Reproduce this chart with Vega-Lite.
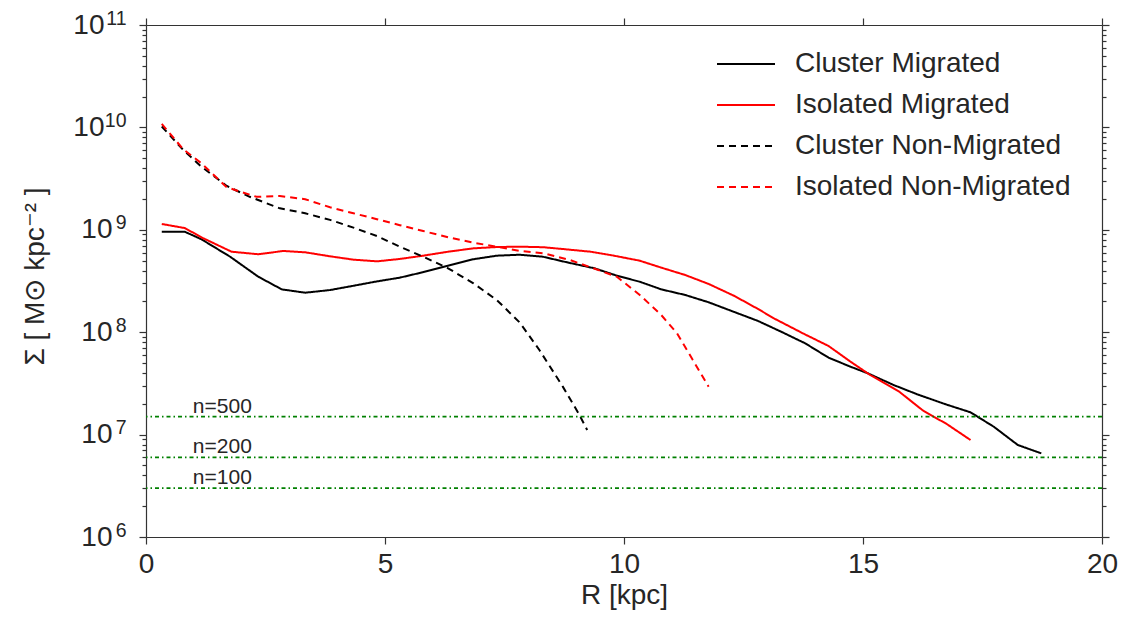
{
  "$schema": "https://vega.github.io/schema/vega-lite/v6.json",
  "width": 956,
  "height": 512,
  "autosize": {"type": "none"},
  "padding": {"left": 146, "top": 25, "right": 38, "bottom": 84},
  "background": "white",
  "config": {
    "view": {"stroke": null},
    "font": "Liberation Sans",
    "axis": {
      "grid": false,
      "domainColor": "#333333",
      "domainWidth": 1.2,
      "tickColor": "#333333",
      "tickWidth": 1.2,
      "labelColor": "#262626",
      "titleColor": "#262626",
      "labelFont": "Liberation Sans",
      "titleFont": "Liberation Sans",
      "labelFontSize": 28,
      "titleFontSize": 28,
      "titleFontWeight": "normal"
    }
  },
  "datasets": {
    "profiles": [
      {"R": 0.33, "S": 9.58e8, "series": "Cluster Migrated"},
      {"R": 0.81, "S": 9.58e8, "series": "Cluster Migrated"},
      {"R": 1.16, "S": 8.08e8, "series": "Cluster Migrated"},
      {"R": 1.76, "S": 5.46e8, "series": "Cluster Migrated"},
      {"R": 2.35, "S": 3.48e8, "series": "Cluster Migrated"},
      {"R": 2.84, "S": 2.62e8, "series": "Cluster Migrated"},
      {"R": 3.33, "S": 2.43e8, "series": "Cluster Migrated"},
      {"R": 3.85, "S": 2.58e8, "series": "Cluster Migrated"},
      {"R": 4.34, "S": 2.84e8, "series": "Cluster Migrated"},
      {"R": 4.79, "S": 3.11e8, "series": "Cluster Migrated"},
      {"R": 5.31, "S": 3.41e8, "series": "Cluster Migrated"},
      {"R": 5.79, "S": 3.85e8, "series": "Cluster Migrated"},
      {"R": 6.32, "S": 4.46e8, "series": "Cluster Migrated"},
      {"R": 6.84, "S": 5.15e8, "series": "Cluster Migrated"},
      {"R": 7.34, "S": 5.59e8, "series": "Cluster Migrated"},
      {"R": 7.82, "S": 5.71e8, "series": "Cluster Migrated"},
      {"R": 8.30, "S": 5.46e8, "series": "Cluster Migrated"},
      {"R": 8.81, "S": 4.81e8, "series": "Cluster Migrated"},
      {"R": 9.38, "S": 4.21e8, "series": "Cluster Migrated"},
      {"R": 9.87, "S": 3.54e8, "series": "Cluster Migrated"},
      {"R": 10.33, "S": 3.11e8, "series": "Cluster Migrated"},
      {"R": 10.78, "S": 2.62e8, "series": "Cluster Migrated"},
      {"R": 11.28, "S": 2.31e8, "series": "Cluster Migrated"},
      {"R": 11.77, "S": 1.96e8, "series": "Cluster Migrated"},
      {"R": 12.30, "S": 1.58e8, "series": "Cluster Migrated"},
      {"R": 12.80, "S": 1.29e8, "series": "Cluster Migrated"},
      {"R": 13.29, "S": 1.01e8, "series": "Cluster Migrated"},
      {"R": 13.79, "S": 7.79e7, "series": "Cluster Migrated"},
      {"R": 14.28, "S": 5.64e7, "series": "Cluster Migrated"},
      {"R": 14.74, "S": 4.60e7, "series": "Cluster Migrated"},
      {"R": 15.10, "S": 3.97e7, "series": "Cluster Migrated"},
      {"R": 15.64, "S": 3.05e7, "series": "Cluster Migrated"},
      {"R": 16.13, "S": 2.48e7, "series": "Cluster Migrated"},
      {"R": 16.71, "S": 1.99e7, "series": "Cluster Migrated"},
      {"R": 17.25, "S": 1.65e7, "series": "Cluster Migrated"},
      {"R": 17.74, "S": 1.19e7, "series": "Cluster Migrated"},
      {"R": 18.24, "S": 7.91e6, "series": "Cluster Migrated"},
      {"R": 18.73, "S": 6.56e6, "series": "Cluster Migrated"},

      {"R": 0.33, "S": 1.14e9, "series": "Isolated Migrated"},
      {"R": 0.81, "S": 1.04e9, "series": "Isolated Migrated"},
      {"R": 1.20, "S": 8.26e8, "series": "Isolated Migrated"},
      {"R": 1.79, "S": 6.11e8, "series": "Isolated Migrated"},
      {"R": 2.35, "S": 5.77e8, "series": "Isolated Migrated"},
      {"R": 2.87, "S": 6.21e8, "series": "Isolated Migrated"},
      {"R": 3.33, "S": 6.03e8, "series": "Isolated Migrated"},
      {"R": 3.85, "S": 5.51e8, "series": "Isolated Migrated"},
      {"R": 4.34, "S": 5.11e8, "series": "Isolated Migrated"},
      {"R": 4.83, "S": 4.92e8, "series": "Isolated Migrated"},
      {"R": 5.31, "S": 5.19e8, "series": "Isolated Migrated"},
      {"R": 5.80, "S": 5.59e8, "series": "Isolated Migrated"},
      {"R": 6.32, "S": 6.11e8, "series": "Isolated Migrated"},
      {"R": 6.85, "S": 6.59e8, "series": "Isolated Migrated"},
      {"R": 7.34, "S": 6.79e8, "series": "Isolated Migrated"},
      {"R": 7.82, "S": 6.84e8, "series": "Isolated Migrated"},
      {"R": 8.31, "S": 6.76e8, "series": "Isolated Migrated"},
      {"R": 8.72, "S": 6.49e8, "series": "Isolated Migrated"},
      {"R": 9.30, "S": 6.11e8, "series": "Isolated Migrated"},
      {"R": 9.79, "S": 5.59e8, "series": "Isolated Migrated"},
      {"R": 10.33, "S": 4.99e8, "series": "Isolated Migrated"},
      {"R": 10.78, "S": 4.27e8, "series": "Isolated Migrated"},
      {"R": 11.28, "S": 3.62e8, "series": "Isolated Migrated"},
      {"R": 11.77, "S": 2.96e8, "series": "Isolated Migrated"},
      {"R": 12.30, "S": 2.27e8, "series": "Isolated Migrated"},
      {"R": 12.80, "S": 1.69e8, "series": "Isolated Migrated"},
      {"R": 13.13, "S": 1.37e8, "series": "Isolated Migrated"},
      {"R": 13.74, "S": 9.76e7, "series": "Isolated Migrated"},
      {"R": 14.28, "S": 7.33e7, "series": "Isolated Migrated"},
      {"R": 14.74, "S": 5.15e7, "series": "Isolated Migrated"},
      {"R": 15.15, "S": 3.82e7, "series": "Isolated Migrated"},
      {"R": 15.76, "S": 2.62e7, "series": "Isolated Migrated"},
      {"R": 16.26, "S": 1.71e7, "series": "Isolated Migrated"},
      {"R": 16.75, "S": 1.27e7, "series": "Isolated Migrated"},
      {"R": 17.25, "S": 8.85e6, "series": "Isolated Migrated"},

      {"R": 0.33, "S": 1.02e10, "series": "Cluster Non-Migrated"},
      {"R": 0.78, "S": 6.02e9, "series": "Cluster Non-Migrated"},
      {"R": 1.16, "S": 4.13e9, "series": "Cluster Non-Migrated"},
      {"R": 1.69, "S": 2.68e9, "series": "Cluster Non-Migrated"},
      {"R": 2.17, "S": 2.10e9, "series": "Cluster Non-Migrated"},
      {"R": 2.80, "S": 1.62e9, "series": "Cluster Non-Migrated"},
      {"R": 3.33, "S": 1.45e9, "series": "Cluster Non-Migrated"},
      {"R": 3.85, "S": 1.25e9, "series": "Cluster Non-Migrated"},
      {"R": 4.34, "S": 1.05e9, "series": "Cluster Non-Migrated"},
      {"R": 4.83, "S": 8.70e8, "series": "Cluster Non-Migrated"},
      {"R": 5.31, "S": 6.84e8, "series": "Cluster Non-Migrated"},
      {"R": 5.80, "S": 5.46e8, "series": "Cluster Non-Migrated"},
      {"R": 6.32, "S": 4.21e8, "series": "Cluster Non-Migrated"},
      {"R": 6.85, "S": 3.00e8, "series": "Cluster Non-Migrated"},
      {"R": 7.34, "S": 2.06e8, "series": "Cluster Non-Migrated"},
      {"R": 7.82, "S": 1.24e8, "series": "Cluster Non-Migrated"},
      {"R": 8.23, "S": 6.70e7, "series": "Cluster Non-Migrated"},
      {"R": 8.72, "S": 2.94e7, "series": "Cluster Non-Migrated"},
      {"R": 9.05, "S": 1.61e7, "series": "Cluster Non-Migrated"},
      {"R": 9.23, "S": 1.11e7, "series": "Cluster Non-Migrated"},

      {"R": 0.33, "S": 1.08e10, "series": "Isolated Non-Migrated"},
      {"R": 0.78, "S": 6.11e9, "series": "Isolated Non-Migrated"},
      {"R": 1.16, "S": 4.46e9, "series": "Isolated Non-Migrated"},
      {"R": 1.69, "S": 2.60e9, "series": "Isolated Non-Migrated"},
      {"R": 2.31, "S": 2.10e9, "series": "Isolated Non-Migrated"},
      {"R": 2.80, "S": 2.14e9, "series": "Isolated Non-Migrated"},
      {"R": 3.33, "S": 1.99e9, "series": "Isolated Non-Migrated"},
      {"R": 3.85, "S": 1.66e9, "series": "Isolated Non-Migrated"},
      {"R": 4.34, "S": 1.45e9, "series": "Isolated Non-Migrated"},
      {"R": 4.83, "S": 1.27e9, "series": "Isolated Non-Migrated"},
      {"R": 5.31, "S": 1.11e9, "series": "Isolated Non-Migrated"},
      {"R": 5.80, "S": 9.73e8, "series": "Isolated Non-Migrated"},
      {"R": 6.32, "S": 8.45e8, "series": "Isolated Non-Migrated"},
      {"R": 6.85, "S": 7.48e8, "series": "Isolated Non-Migrated"},
      {"R": 7.34, "S": 6.84e8, "series": "Isolated Non-Migrated"},
      {"R": 7.82, "S": 6.21e8, "series": "Isolated Non-Migrated"},
      {"R": 8.31, "S": 5.90e8, "series": "Isolated Non-Migrated"},
      {"R": 8.87, "S": 5.07e8, "series": "Isolated Non-Migrated"},
      {"R": 9.36, "S": 4.21e8, "series": "Isolated Non-Migrated"},
      {"R": 9.85, "S": 3.48e8, "series": "Isolated Non-Migrated"},
      {"R": 10.33, "S": 2.31e8, "series": "Isolated Non-Migrated"},
      {"R": 10.78, "S": 1.47e8, "series": "Isolated Non-Migrated"},
      {"R": 11.11, "S": 9.76e7, "series": "Isolated Non-Migrated"},
      {"R": 11.44, "S": 5.35e7, "series": "Isolated Non-Migrated"},
      {"R": 11.77, "S": 2.94e7, "series": "Isolated Non-Migrated"}
    ],
    "limits": [
      {"label": "n=500", "S": 1.5e7},
      {"label": "n=200", "S": 6.0e6},
      {"label": "n=100", "S": 3.0e6}
    ]
  },
  "layer": [
    {
      "data": {"name": "profiles"},
      "mark": {"type": "line", "strokeWidth": 2},
      "encoding": {
        "x": {
          "field": "R", "type": "quantitative",
          "scale": {"domain": [0, 20], "nice": false, "zero": false},
          "axis": {"orient": "bottom", "values": [0, 5, 10, 15, 20], "tickSize": 7, "labelPadding": 6, "title": "R [kpc]", "titlePadding": 3, "labelFlush": false}
        },
        "y": {
          "field": "S", "type": "quantitative",
          "scale": {"type": "log", "domain": [1e6, 1e11], "nice": false},
          "axis": {
            "orient": "left",
            "values": [1e6, 2e6, 3e6, 4e6, 5e6, 6e6, 7e6, 8e6, 9e6, 1e7, 2e7, 3e7, 4e7, 5e7, 6e7, 7e7, 8e7, 9e7, 1e8, 2e8, 3e8, 4e8, 5e8, 6e8, 7e8, 8e8, 9e8, 1e9, 2e9, 3e9, 4e9, 5e9, 6e9, 7e9, 8e9, 9e9, 1e10, 2e10, 3e10, 4e10, 5e10, 6e10, 7e10, 8e10, 9e10, 1e11],
            "tickSize": {"condition": {"test": "abs(log(datum.value)/LN10 - round(log(datum.value)/LN10)) < 0.001", "value": 7}, "value": 4},
            "labelExpr": "abs(log(datum.value)/LN10 - round(log(datum.value)/LN10)) < 0.001 ? format(round(log(datum.value)/LN10), 'd') : ''",
            "labelFontSize": 19.5,
            "labelPadding": 13,
            "labelOffset": -7,
            "labelFlush": false,
            "labelOverlap": false,
            "title": "Σ [ M⊙ kpc⁻² ]",
            "titleX": -111,
            "titleY": 251,
            "titleBaseline": "middle",
            "titleAngle": 270
          }
        },
        "color": {
          "field": "series", "type": "nominal",
          "scale": {"domain": ["Cluster Migrated", "Isolated Migrated", "Cluster Non-Migrated", "Isolated Non-Migrated"], "range": ["#000000", "#ff0000", "#000000", "#ff0000"]},
          "legend": {
            "title": null,
            "orient": "none",
            "legendX": 586,
            "legendY": 25,
            "symbolType": "M-2.9,0H2.9",
            "symbolSize": 400,
            "symbolStrokeWidth": 2,
            "labelFontSize": 28,
            "labelColor": "#262626",
            "labelOffset": 35,
            "labelLimit": 0,
            "rowPadding": 13
          }
        },
        "strokeDash": {
          "field": "series", "type": "nominal",
          "scale": {"domain": ["Cluster Migrated", "Isolated Migrated", "Cluster Non-Migrated", "Isolated Non-Migrated"], "range": [[1, 0], [1, 0], [7, 5], [7, 5]]},
          "legend": {
            "title": null,
            "orient": "none",
            "legendX": 586,
            "legendY": 25,
            "symbolType": "M-2.9,0H2.9",
            "symbolSize": 400,
            "symbolStrokeWidth": 2,
            "labelFontSize": 28,
            "labelColor": "#262626",
            "labelOffset": 35,
            "labelLimit": 0,
            "rowPadding": 13
          }
        }
      }
    },
    {
      "data": {"name": "limits"},
      "mark": {"type": "rule", "color": "#008000", "strokeWidth": 1.8, "strokeDash": [4, 3, 1.5, 3]},
      "encoding": {
        "y": {
          "field": "S", "type": "quantitative",
          "axis": {
            "orient": "left",
            "values": [1e6, 1e7, 1e8, 1e9, 1e10, 1e11],
            "ticks": false,
            "tickSize": 0,
            "domain": false,
            "labelExpr": "'10'",
            "labelPadding": {"condition": {"test": "datum.value > 5e9", "value": 42}, "value": 34},
            "labelFlush": false,
            "labelOverlap": false,
            "title": null
          }
        }
      }
    },
    {
      "data": {"name": "limits"},
      "mark": {"type": "text", "align": "left", "baseline": "alphabetic", "dy": -4, "fontSize": 21, "color": "#262626", "font": "Liberation Sans"},
      "encoding": {
        "x": {
          "datum": 0.98, "type": "quantitative",
          "axis": {"orient": "top", "values": [0, 5, 10, 15, 20], "tickSize": 7, "labels": false, "title": null}
        },
        "y": {
          "field": "S", "type": "quantitative",
          "axis": {
            "orient": "right",
            "values": [1e6, 2e6, 3e6, 4e6, 5e6, 6e6, 7e6, 8e6, 9e6, 1e7, 2e7, 3e7, 4e7, 5e7, 6e7, 7e7, 8e7, 9e7, 1e8, 2e8, 3e8, 4e8, 5e8, 6e8, 7e8, 8e8, 9e8, 1e9, 2e9, 3e9, 4e9, 5e9, 6e9, 7e9, 8e9, 9e9, 1e10, 2e10, 3e10, 4e10, 5e10, 6e10, 7e10, 8e10, 9e10, 1e11],
            "tickSize": {"condition": {"test": "abs(log(datum.value)/LN10 - round(log(datum.value)/LN10)) < 0.001", "value": 7}, "value": 4},
            "labels": false,
            "title": null
          }
        },
        "text": {"field": "label"}
      }
    }
  ],
  "resolve": {"axis": {"x": "independent", "y": "independent"}}
}
